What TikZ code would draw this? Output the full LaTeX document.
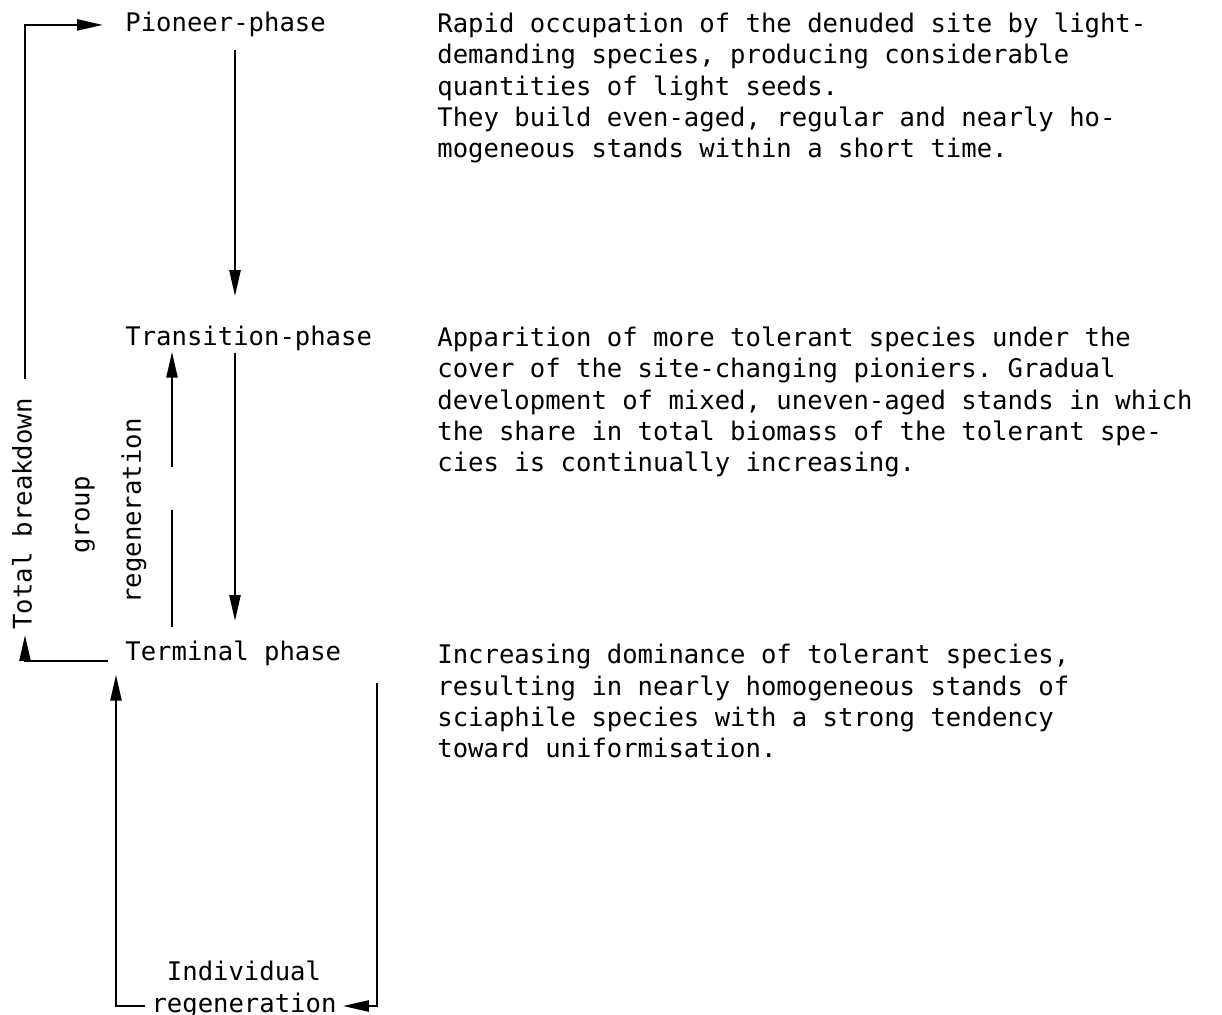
\documentclass[tikz,border=0pt]{standalone}
\usepackage{fontspec}
\setmonofont{DejaVu Sans Mono}
\usetikzlibrary{arrows.meta}

\begin{document}
\begin{tikzpicture}[x=0.5pt, y=-0.5pt,
  every node/.style={font=\ttfamily\fontsize{12.8}{15.7}\selectfont, inner sep=0pt},
  phase/.style={anchor=base west},
  desc/.style={anchor=base west, align=left},
  vlabel/.style={rotate=90},
  flow/.style={line width=1.2pt, -{Triangle[length=13pt, width=5.5pt]}},
  plain/.style={line width=1.2pt}]

  \useasboundingbox (0,0) rectangle (1222,1015);

  % the three phases
  \node[phase] (pion) at (125,32) {Pioneer-phase};
  \node[phase] (trans) at (125,346) {Transition-phase};
  \node[phase] (term) at (125,661) {Terminal phase};

  % what happens in each phase (placed by the baseline of the last line)
  \node[desc] (dpion) at (437,158) {Rapid occupation of the denuded site by light-\\
    demanding species, producing considerable\\
    quantities of light seeds.\\
    They build even-aged, regular and nearly ho-\\
    mogeneous stands within a short time.};
  \node[desc] (dtrans) at (437,472) {Apparition of more tolerant species under the\\
    cover of the site-changing pioniers. Gradual\\
    development of mixed, uneven-aged stands in which\\
    the share in total biomass of the tolerant spe-\\
    cies is continually increasing.};
  \node[desc] (dterm) at (437,758) {Increasing dominance of tolerant species,\\
    resulting in nearly homogeneous stands of\\
    sciaphile species with a strong tendency\\
    toward uniformisation.};

  % succession
  \coordinate (xa) at (235,0);
  \draw[flow, shorten <=6pt, shorten >=15pt] (pion.south -| xa) -- (trans.north -| xa);
  \draw[flow, shorten <=0.5pt, shorten >=10pt] (trans.south -| xa) -- (term.north -| xa);

  % group regeneration
  \node[vlabel] (grp) at (85,515) {group};
  \node[vlabel] (greg) at (134,511) {regeneration};
  \coordinate (gapb) at (172,510);
  \coordinate (gapt) at (172,467);
  \draw[plain, shorten <=7pt] (term.north -| gapb) -- (gapb);
  \draw[flow] (gapt) -- (trans.south -| gapt);

  % total breakdown
  \node[vlabel] (tb) at (22,514) {Total breakdown};
  \coordinate (xl) at (25,0);
  \draw[flow, shorten <=8.5pt, shorten >=2.5pt] (term.base west) -- (term.base west -| xl) -- (tb.west -| xl);
  \draw[flow, shorten <=9.5pt, shorten >=11pt] (tb.east -| xl) -- (pion.west -| xl) -- (pion.west);

  % individual regeneration
  \node[anchor=north, align=center] (ind) at (244,961) {Individual\\regeneration};
  \coordinate (ibl) at (116,1006);
  \coordinate (ibr) at (377,1006);
  \draw[flow, shorten <=3pt, shorten >=4pt] (ind.west |- ibl) -- (ibl) -- (term.south -| ibl);
  \draw[flow, shorten <=8pt, shorten >=3pt] (term.south -| ibr) -- (ibr) -- (ind.east |- ibr);

\end{tikzpicture}
\end{document}
